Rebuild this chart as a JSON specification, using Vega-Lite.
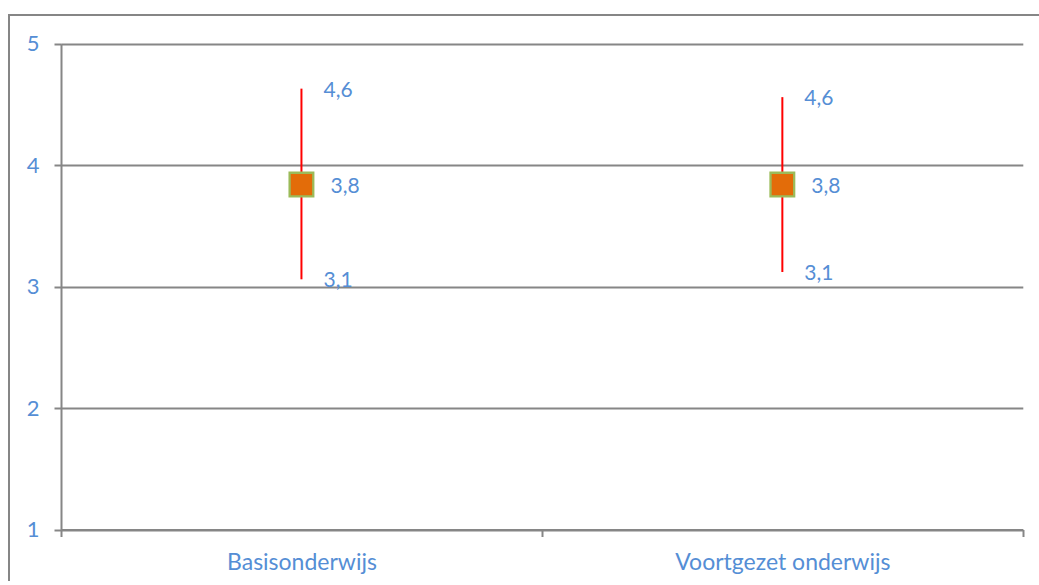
{
  "$schema": "https://vega.github.io/schema/vega-lite/v6.json",
  "width": 1030,
  "height": 566,
  "autosize": {"type": "none"},
  "padding": {"left": 9, "top": 15, "right": 0, "bottom": 0},
  "background": "white",
  "config": {
    "locale": {"number": {"decimal": ",", "thousands": ".", "grouping": [3], "currency": ["€", ""]}},
    "view": {"stroke": "#868686", "strokeWidth": 2, "strokeDash": [1030, 1596, 600]},
    "font": "Lato"
  },
  "data": {
    "values": [
      {"niveau": "Basisonderwijs", "gem": 3.84, "laag": 3.06, "hoog": 4.63},
      {"niveau": "Voortgezet onderwijs", "gem": 3.84, "laag": 3.12, "hoog": 4.56}
    ]
  },
  "encoding": {
    "x": {
      "field": "niveau",
      "type": "nominal",
      "sort": null,
      "scale": {"range": [52, 1013.8], "paddingInner": 0, "paddingOuter": 0},
      "axis": {
        "title": null,
        "labelAngle": 0,
        "labelFontSize": 23,
        "labelColor": "#558ED5",
        "labelFont": "Lato",
        "labelPadding": 15,
        "labelLimit": 0,
        "tickBand": "extent",
        "tickSize": 7,
        "tickWidth": 2,
        "tickColor": "#868686",
        "domainColor": "#868686",
        "domainWidth": 2,
        "grid": false,
        "offset": -51.5
      }
    }
  },
  "layer": [
    {
      "mark": {"type": "rule", "color": "#FF0000", "strokeWidth": 2},
      "encoding": {
        "y": {
          "field": "laag",
          "type": "quantitative",
          "scale": {"domain": [1, 5], "range": [514.5, 28.7], "nice": false, "zero": false},
          "axis": {
            "title": null,
            "values": [1, 2, 3, 4, 5],
            "format": "d",
            "labelFontSize": 22,
            "labelColor": "#558ED5",
            "labelFont": "Lato",
            "labelPadding": 15,
            "tickSize": 7,
            "tickWidth": 2,
            "tickColor": "#868686",
            "domainColor": "#868686",
            "domainWidth": 2,
            "grid": true,
            "gridColor": "#868686",
            "gridWidth": 2,
            "gridOpacity": 1,
            "offset": -52
          }
        },
        "y2": {"field": "hoog"}
      }
    },
    {
      "mark": {"type": "point", "shape": "square", "filled": true, "fill": "#E36C09", "stroke": "#9BBB59", "strokeWidth": 2.3, "size": 560, "opacity": 1},
      "encoding": {"y": {"field": "gem", "type": "quantitative"}}
    },
    {
      "mark": {"type": "text", "align": "left", "baseline": "middle", "dx": 22, "dy": 2, "fontSize": 21, "color": "#558ED5"},
      "encoding": {
        "y": {"field": "hoog", "type": "quantitative"},
        "text": {"field": "hoog", "type": "quantitative", "format": ".1f"}
      }
    },
    {
      "mark": {"type": "text", "align": "left", "baseline": "middle", "dx": 22, "dy": 2, "fontSize": 21, "color": "#558ED5"},
      "encoding": {
        "y": {"field": "laag", "type": "quantitative"},
        "text": {"field": "laag", "type": "quantitative", "format": ".1f"}
      }
    },
    {
      "mark": {"type": "text", "align": "left", "baseline": "middle", "dx": 29, "dy": 2, "fontSize": 21, "color": "#558ED5"},
      "encoding": {
        "y": {"field": "gem", "type": "quantitative"},
        "text": {"field": "gem", "type": "quantitative", "format": ".1f"}
      }
    }
  ]
}
